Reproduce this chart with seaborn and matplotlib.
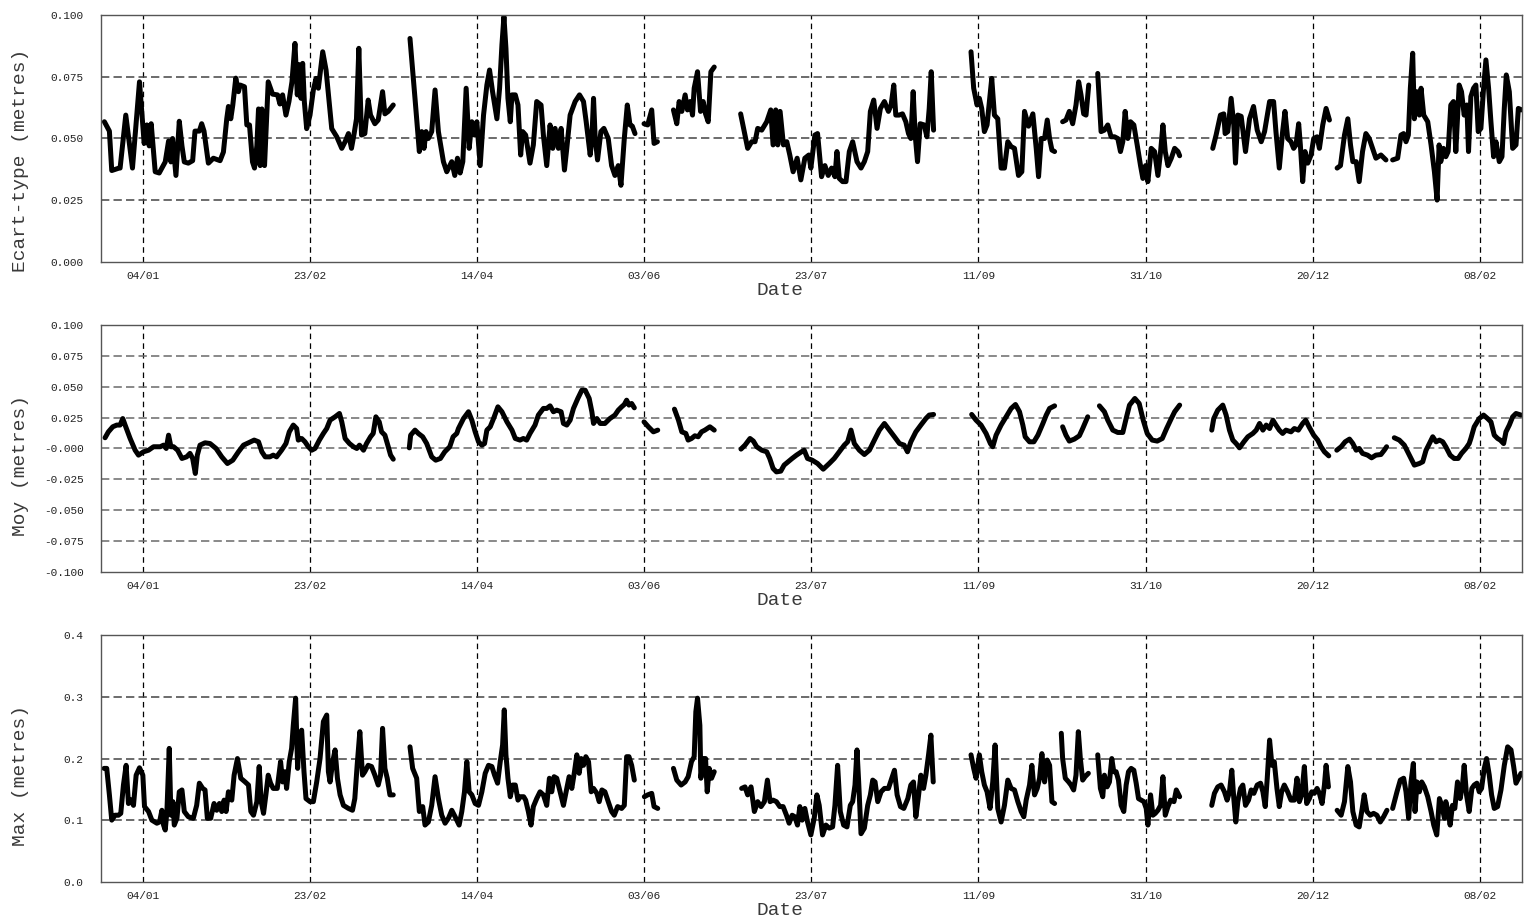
import matplotlib
matplotlib.use("Agg")
import matplotlib.pyplot as plt
import numpy as np
import pandas as pd
import seaborn as sns

# (days after 04/01, value in metres); None marks a gap in the record
ecart_type = [
    (-11.4, .0568), (-9.9, .053), (-9.2, .037), (-7.0, .038), (-6.7, .038), (-5.0, .0595), (-3.0, .038),
    (-0.9, .073), (0.5, .048), (1.3, .0555), (2.0, .047), (2.6, .056), (3.8, .0365), (5.0, .036),
    (6.8, .0405), (7.8, .049), (8.5, .0405), (9.0, .050), (10.0, .035), (11.0, .057), (11.8, .047),
    (12.5, .0405), (13.7, .040), (15.0, .041), (15.7, .053), (17.0, .053), (17.7, .056), (18.4, .053),
    (19.7, .040), (21.2, .042), (23.2, .041), (24.2, .0445), (25.2, .058), (25.7, .063), (26.4, .058),
    (27.0, .0635), (27.9, .0745), (28.7, .069), (29.2, .0717), (30.5, .071), (31.2, .0555), (32.0, .0555),
    (32.9, .0405), (33.5, .038), (34.2, .047), (34.7, .062), (35.2, .039), (35.7, .062), (36.5, .039),
    (37.6, .073), (38.9, .068), (40.4, .0677), (41.1, .064), (41.9, .0677), (42.9, .0595), (43.8, .065),
    (44.7, .073), (45.6, .0886), (46.3, .0677), (46.8, .080), (47.4, .0663), (47.9, .0805), (48.4, .065),
    (49.1, .054), (50.1, .0595), (51.1, .0697), (51.9, .0744), (52.6, .0704), (53.9, .0852), (54.9, .0778),
    (56.6, .054), (58.1, .0507), (59.6, .046), (60.6, .0487), (61.6, .052), (62.5, .046), (63.3, .052),
    (64.0, .058), (64.7, .0866), (65.5, .0514), (66.5, .052), (67.5, .0656), (68.2, .0595), (69.5, .056),
    (70.5, .0575), (71.8, .069), (72.5, .060), (73.5, .061), (75.0, .0636),
    None,
    (80.0, .0906), (81.5, .0663), (82.8, .0447), (83.5, .0528), (84.2, .046), (84.8, .0528), (85.5, .050),
    (86.5, .0528), (87.5, .0697), (88.5, .0528), (90.0, .0406), (91.0, .0365), (92.5, .0406), (93.4, .035),
    (94.2, .042), (95.0, .036), (95.8, .0406), (96.8, .0704), (97.7, .046), (98.5, .0568), (99.3, .0514),
    (100.0, .0568), (101.0, .039), (102.0, .0595), (103.0, .0717), (103.8, .0778), (104.7, .069),
    (106.0, .058), (106.8, .0704), (107.5, .088), (108.1, .0995), (108.7, .0866), (109.3, .0663),
    (110.0, .0568), (110.5, .0677), (111.5, .0677), (112.3, .0636), (113.1, .0433), (113.7, .0528),
    (114.6, .0514), (115.9, .040), (116.9, .0474), (117.9, .065), (119.2, .0636), (119.9, .0514),
    (120.9, .039), (121.9, .0555), (122.7, .046), (123.4, .0541), (124.4, .046), (125.2, .0541),
    (126.2, .0372), (126.9, .046), (127.9, .0595), (129.4, .065), (130.7, .0677), (131.9, .065),
    (132.7, .0568), (133.9, .0433), (134.4, .050), (134.9, .0663), (135.4, .050), (136.1, .0413),
    (137.1, .0528), (138.0, .0541), (139.3, .050), (140.3, .039), (141.3, .035), (142.3, .039),
    (143.1, .031), (144.1, .050), (145.0, .0636), (145.8, .0555), (146.5, .055), (147.3, .052),
    None,
    (150.0, .056), (151.1, .0555), (152.3, .0616), (153.0, .048), (154.0, .0487),
    None,
    (158.8, .0616), (159.8, .056), (160.5, .065), (161.3, .061), (162.3, .0677), (163.0, .0616),
    (163.8, .065), (164.5, .0595), (165.0, .0704), (166.0, .0771), (166.9, .061), (167.7, .065),
    (168.4, .060), (169.2, .0568), (170.0, .0771), (171.0, .079),
    None,
    (178.9, .060), (181.0, .046), (182.2, .0487), (183.2, .0487), (184.0, .0541), (185.2, .0534),
    (186.7, .0568), (187.9, .0616), (188.6, .0474), (189.4, .0616), (190.0, .0474), (190.7, .061),
    (191.7, .0474), (192.7, .0487), (193.6, .0433), (194.6, .0365), (195.8, .042), (196.9, .0332),
    (198.1, .042), (199.3, .0433), (199.9, .038), (201.1, .0514), (201.9, .052), (203.1, .0345),
    (204.1, .039), (205.1, .035), (206.1, .038), (207.1, .0345), (207.7, .0447), (208.4, .0338),
    (209.4, .0325), (210.4, .0325), (211.4, .0447), (212.4, .0487), (213.7, .0406), (214.9, .038),
    (215.9, .0406), (216.9, .0447), (217.7, .061), (218.7, .0656), (219.7, .0541), (220.7, .0622),
    (221.9, .065), (223.1, .061), (223.9, .0636), (224.7, .0717), (225.3, .0595), (226.3, .0595),
    (227.3, .060), (228.3, .0568), (229.1, .052), (229.8, .050), (230.5, .069), (231.1, .0514),
    (231.8, .0406), (232.6, .056), (233.8, .0555), (234.6, .0507), (235.3, .0622), (235.9, .0771),
    (236.6, .0534),
    None,
    (247.8, .0852), (248.6, .0704), (249.6, .0636), (250.3, .0663), (251.0, .0622), (251.8, .0528),
    (252.6, .0555), (253.3, .065), (254.0, .0744), (254.8, .0595), (255.8, .058), (256.8, .038),
    (257.8, .038), (258.8, .0487), (259.8, .0467), (260.8, .046), (262.0, .035), (263.0, .0365),
    (263.8, .061), (265.0, .055), (266.3, .060), (267.3, .046), (268.0, .0345), (268.8, .050),
    (269.8, .050), (270.6, .0575), (271.3, .050), (272.0, .0453), (272.8, .0447),
    None,
    (275.2, .0568), (276.2, .0575), (277.2, .061), (278.2, .056), (279.2, .0636), (280.0, .073),
    (280.7, .0677), (281.5, .060), (282.2, .0595), (283.0, .0717),
    None,
    (285.7, .0764), (286.7, .0528), (287.7, .0534), (288.7, .0555), (289.7, .0507), (290.7, .0507),
    (291.7, .050), (292.5, .0447), (293.2, .0487), (293.9, .061), (294.7, .050), (295.5, .0568),
    (296.5, .0555), (297.5, .0474), (298.5, .039), (299.2, .0338), (300.0, .039), (300.7, .0325),
    (301.7, .046), (302.7, .0447), (303.7, .035), (304.5, .0447), (305.2, .0555), (305.9, .0447),
    (306.7, .039), (307.7, .042), (308.7, .046), (309.7, .0447), (310.2, .043),
    None,
    (320.1, .046), (321.1, .0514), (322.4, .0595), (323.4, .060), (323.8, .052), (324.6, .0528),
    (325.6, .0663), (326.4, .0555), (326.9, .040), (327.6, .0595), (328.6, .059), (329.9, .0447),
    (331.1, .058), (332.3, .063), (333.4, .0534), (334.6, .0487), (335.6, .0528), (337.1, .065),
    (338.3, .065), (339.0, .0528), (340.0, .038), (341.0, .0528), (341.7, .061), (342.5, .050),
    (343.5, .0487), (344.3, .046), (345.0, .0474), (345.8, .056), (346.3, .0474), (347.0, .0325),
    (347.7, .0447), (348.5, .040), (349.5, .0433), (350.3, .050), (351.3, .0507), (352.0, .046),
    (353.0, .0555), (354.0, .0622), (355.0, .0575),
    None,
    (357.3, .038), (358.3, .039), (359.5, .0514), (360.5, .058), (361.3, .0474), (362.0, .0406),
    (363.0, .0406), (363.9, .0325), (364.9, .0447), (365.9, .052), (366.9, .050), (367.9, .046),
    (368.9, .042), (370.4, .0433), (371.9, .0413),
    None,
    (373.9, .0413), (375.4, .042), (376.4, .0514), (377.2, .052), (377.9, .0487), (378.6, .0514),
    (379.2, .0704), (379.9, .0846), (380.4, .058), (381.1, .069), (381.9, .0595), (382.4, .0704),
    (383.2, .0595), (384.4, .0568), (385.4, .0474), (386.4, .0365), (387.2, .025), (387.8, .0474),
    (388.3, .0406), (389.1, .046), (389.8, .0426), (390.5, .0447), (391.3, .0636), (392.1, .065),
    (392.8, .0447), (393.8, .0717), (394.5, .069), (395.3, .0595), (396.1, .0636), (396.6, .0447),
    (397.3, .067), (398.1, .0704), (398.8, .0717), (399.5, .0528), (400.3, .0541), (401.1, .0704),
    (401.8, .0819), (402.6, .0704), (403.3, .0568), (404.1, .0426), (404.8, .0487), (405.8, .0406),
    (406.6, .0426), (407.3, .0622), (407.9, .0758), (408.8, .069), (409.8, .046), (410.8, .0474),
    (411.5, .0622), (412.5, .0616),
]

moyenne = [
    (-11.2, .0087), (-10.2, .0135), (-8.9, .0176), (-7.7, .019), (-6.7, .019), (-5.9, .0243), (-5.2, .019),
    (-3.7, .0081), (-2.2, -.0014), (-1.2, -.0054), (0.3, -.0027), (1.8, -.0014), (3.3, .0014), (5.3, .0014),
    (6.3, .0027), (7.1, 0.0), (7.8, .0108), (8.5, .0014), (9.3, .0014), (10.5, -.0014), (11.8, -.0081),
    (13.2, -.0068), (14.2, -.004), (15.0, -.0081), (15.8, -.0203), (16.4, -.0054), (17.2, .0027),
    (18.7, .0046), (20.2, .004), (22.0, 0.0), (23.7, -.0068), (25.4, -.0122), (27.0, -.0095),
    (28.7, -.0027), (30.2, .0027), (31.7, .0046), (33.4, .0068), (34.7, .0054), (35.7, -.0027),
    (36.7, -.0068), (38.1, -.0068), (39.1, -.0054), (40.1, -.0068), (41.6, -.0014), (42.9, .004),
    (43.9, .0135), (45.1, .019), (46.1, .0162), (46.6, .0068), (47.6, .0081), (48.6, .0054), (49.6, .0014),
    (50.6, -.0014), (51.6, 0.0), (52.9, .0068), (54.1, .0122), (55.1, .0162), (56.1, .023), (57.6, .0257),
    (58.9, .0284), (59.6, .0216), (60.6, .0081), (61.9, .004), (63.1, .0014), (64.1, 0.0), (64.9, .0027),
    (66.1, -.0014), (67.0, .004), (68.2, .0095), (69.0, .0122), (69.8, .0257), (70.8, .0216), (71.5, .0135),
    (72.5, .0108), (73.5, .0014), (74.2, -.0054), (75.0, -.0087),
    None,
    (79.8, .0005), (80.2, .0108), (81.5, .0149), (82.5, .0122), (83.8, .0095), (85.0, .004), (86.5, -.0068),
    (87.7, -.0095), (89.1, -.0081), (90.4, -.0027), (91.9, .0014), (92.9, .0095), (94.0, .0122),
    (94.5, .0162), (96.0, .0243), (97.5, .0298), (98.5, .023), (99.5, .0135), (100.5, .0054), (101.5, .0027),
    (102.3, .004), (103.0, .0149), (104.0, .0176), (105.0, .0243), (106.3, .0338), (107.5, .0298),
    (109.0, .0216), (110.5, .0149), (111.5, .0081), (112.9, .0068), (113.9, .0081), (114.9, .0068),
    (115.9, .0122), (117.4, .019), (118.4, .0271), (119.9, .0325), (120.9, .0325), (121.9, .0346),
    (122.9, .0298), (123.9, .0311), (125.2, .0298), (125.9, .0203), (126.9, .019), (127.9, .023),
    (128.9, .0325), (130.2, .0406), (131.4, .0473), (132.4, .0473), (133.6, .0406), (134.4, .0298),
    (134.9, .0203), (135.9, .0243), (136.9, .0203), (138.3, .0203), (139.8, .0243), (141.3, .0271),
    (142.3, .0311), (143.3, .0338), (144.1, .0357), (144.8, .0392), (145.5, .0352), (146.3, .0365),
    (147.1, .033),
    None,
    (150.0, .0216), (151.3, .0176), (152.8, .0135), (154.1, .0149),
    None,
    (159.1, .0319), (160.3, .023), (161.3, .0135), (162.5, .0122), (163.2, .0068), (164.2, .0081),
    (165.2, .0103), (166.2, .0095), (167.2, .0135), (168.2, .0149), (169.7, .0176), (171.0, .0149),
    None,
    (179.0, -.0005), (180.2, .0027), (181.7, .0081), (182.7, .006), (183.7, .0014), (185.2, -.0014),
    (186.7, -.0027), (187.6, -.0081), (188.6, -.0162), (189.6, -.019), (190.9, -.0184), (191.9, -.0135),
    (193.1, -.0108), (194.3, -.0081), (195.6, -.0054), (197.1, -.0027), (197.9, -.0014), (198.9, -.0081),
    (200.3, -.0095), (201.9, -.0122), (203.6, -.0168), (205.4, -.0122), (206.9, -.0081), (208.4, -.0027),
    (209.9, .0027), (210.9, .0054), (211.9, .0149), (212.9, .004), (214.4, -.0014), (215.9, -.0049),
    (217.4, -.0014), (218.9, .0068), (220.4, .0149), (221.9, .0203), (223.4, .0149), (224.9, .0095),
    (226.4, .004), (227.8, .0027), (228.8, -.0027), (229.8, .0054), (231.3, .0135), (232.8, .019),
    (234.3, .0243), (235.3, .0271), (236.6, .0276),
    None,
    (248.0, .0276), (249.3, .023), (250.8, .019), (252.3, .0122), (253.6, .004), (254.3, .0014),
    (255.3, .0108), (256.8, .019), (258.3, .0257), (259.8, .0325), (261.1, .0357), (262.3, .0298),
    (263.3, .019), (264.0, .0095), (265.3, .0054), (266.6, .0054), (267.8, .0108), (269.3, .0203),
    (270.3, .0271), (271.3, .0325), (272.8, .0346),
    None,
    (275.2, .0176), (276.2, .0108), (277.2, .006), (278.7, .0076), (280.2, .0103), (281.2, .0162),
    (282.7, .0257),
    None,
    (286.2, .0346), (287.7, .0298), (288.7, .023), (290.2, .0149), (291.7, .013), (293.2, .013),
    (294.2, .0243), (295.2, .0352), (296.8, .0406), (298.1, .0365), (299.3, .023), (300.5, .0122),
    (302.0, .0068), (303.5, .006), (305.0, .0081), (306.3, .0162), (307.7, .0243), (308.7, .0298),
    (310.2, .0352),
    None,
    (319.8, .0149), (320.4, .0243), (321.6, .0311), (323.1, .0352), (324.1, .0271), (325.1, .0149),
    (326.1, .0068), (327.1, .004), (328.1, .0005), (329.4, .0054), (330.6, .0095), (332.1, .0122),
    (333.1, .0149), (334.1, .0203), (335.1, .0149), (336.1, .019), (337.1, .0162), (338.1, .023),
    (339.0, .019), (340.0, .0149), (341.0, .0122), (342.0, .0149), (343.5, .0135), (344.5, .0162),
    (345.7, .0149), (347.0, .0203), (347.9, .023), (348.9, .0176), (350.3, .0108), (351.5, .0068),
    (352.5, .0014), (353.5, -.0027), (354.8, -.006),
    None,
    (357.2, -.0014), (358.5, .0014), (359.7, .0054), (361.0, .0076), (362.0, .004), (363.0, -.0014),
    (363.9, 0.0), (364.9, -.004), (366.4, -.0054), (367.6, -.0076), (368.9, -.0054), (370.4, -.0049),
    (371.4, -.0014), (372.1, .0014),
    None,
    (374.4, .0087), (375.9, .0068), (377.4, .0027), (378.4, -.0027), (379.4, -.0081), (380.4, -.0135),
    (381.9, -.0122), (382.9, -.0108), (383.9, -.0014), (384.9, .004), (385.9, .0095), (386.9, .0054),
    (387.9, .0068), (388.9, .0054), (389.8, .0014), (391.1, -.0054), (392.3, -.0081), (393.5, -.0081),
    (394.5, -.004), (395.8, 0.0), (396.8, .004), (397.3, .0081), (398.3, .0176), (399.8, .0243),
    (401.1, .0271), (402.3, .0243), (403.3, .0216), (404.3, .0108), (405.3, .0081), (406.1, .0068),
    (407.1, .004), (407.8, .0135), (408.8, .019), (409.8, .0257), (410.8, .0284), (412.3, .0271),
]

maximum = [
    (-11.5, .184), (-10.7, .184), (-9.9, .141), (-9.2, .100), (-8.2, .108), (-7.2, .108), (-6.5, .111),
    (-5.7, .157), (-4.9, .189), (-4.2, .127), (-3.5, .133), (-2.7, .124), (-1.9, .173), (-0.9, .185),
    (0.1, .173), (0.6, .122), (1.8, .114), (2.8, .100), (4.3, .095), (5.1, .097), (5.8, .116), (6.3, .092),
    (6.8, .084), (7.3, .114), (8.0, .2165), (8.5, .108), (9.1, .130), (9.5, .092), (10.3, .103), (11.0, .146),
    (11.8, .149), (12.5, .114), (13.7, .1055), (15.2, .103), (16.2, .124), (17.0, .160), (18.0, .1515),
    (18.7, .149), (19.4, .103), (20.4, .103), (21.4, .127), (22.2, .116), (23.0, .127), (23.7, .114),
    (24.4, .1325), (25.0, .114), (25.7, .146), (26.7, .1325), (27.4, .173), (28.4, .200), (29.4, .168),
    (30.7, .162), (31.7, .157), (32.4, .114), (33.2, .108), (34.2, .130), (34.9, .187), (35.5, .130),
    (36.2, .111), (36.9, .141), (37.6, .173), (38.3, .160), (39.1, .1515), (40.3, .1515), (41.3, .195),
    (41.9, .162), (42.6, .1786), (43.1, .1515), (43.9, .195), (44.6, .2165), (45.1, .254), (45.8, .298),
    (46.4, .184), (46.9, .238), (47.6, .246), (48.3, .1786), (48.9, .135), (50.1, .130), (51.1, .130),
    (52.1, .162), (53.1, .200), (54.1, .260), (55.1, .2706), (55.6, .1786), (56.1, .162), (56.9, .195),
    (57.6, .214), (58.3, .168), (59.1, .141), (60.1, .124), (61.6, .119), (62.8, .116), (63.5, .135),
    (64.2, .189), (65.0, .2436), (65.8, .173), (66.5, .1786), (67.5, .189), (68.5, .187), (69.5, .173),
    (70.5, .157), (71.2, .173), (71.8, .249), (72.5, .184), (73.2, .168), (74.0, .141), (75.0, .141),
    None,
    (80.0, .219), (80.8, .184), (82.0, .168), (82.8, .114), (83.8, .122), (84.5, .092), (85.5, .097),
    (86.5, .124), (87.5, .1705), (88.5, .135), (89.5, .108), (90.5, .095), (91.5, .103), (92.5, .116),
    (93.5, .1055), (94.7, .092), (95.5, .114), (96.3, .146), (97.0, .195), (97.7, .146), (98.5, .141),
    (99.5, .127), (100.5, .124), (101.5, .146), (102.5, .176), (103.5, .189), (104.5, .187), (105.3, .173),
    (106.2, .160), (107.0, .195), (107.7, .222), (108.2, .279), (108.7, .206), (109.3, .168), (110.0, .138),
    (110.7, .157), (111.5, .157), (112.3, .1325), (113.0, .138), (114.0, .138), (114.6, .1325),
    (115.4, .114), (116.2, .092), (116.9, .122), (117.9, .135), (118.9, .146), (119.9, .141), (120.9, .124),
    (121.7, .168), (122.4, .146), (123.1, .1705), (123.9, .168), (124.9, .146), (125.9, .124),
    (126.9, .1515), (127.6, .1705), (128.4, .1515), (129.2, .1786), (129.9, .206), (130.6, .176),
    (131.2, .200), (131.9, .189), (132.6, .203), (133.4, .195), (134.2, .146), (134.9, .1515),
    (135.9, .1435), (136.6, .130), (137.4, .149), (138.3, .146), (139.3, .130), (140.3, .114),
    (141.1, .108), (142.1, .122), (143.3, .119), (144.1, .124), (144.8, .203), (145.5, .203),
    (146.3, .189), (147.1, .165),
    None,
    (150.1, .138), (151.1, .141), (152.3, .1435), (153.0, .122), (154.1, .119),
    None,
    (158.8, .184), (159.8, .165), (161.1, .157), (162.3, .162), (163.2, .1705), (164.2, .195), (165.0, .203),
    (165.5, .276), (166.0, .298), (166.7, .254), (167.0, .168), (167.7, .200), (168.4, .200), (168.9, .146),
    (169.5, .184), (170.2, .168), (171.0, .1786),
    None,
    (179.2, .1515), (180.2, .154), (181.0, .141), (182.0, .154), (183.0, .114), (184.0, .130), (185.0, .122),
    (186.0, .130), (186.9, .165), (187.7, .130), (188.6, .1325), (189.6, .130), (190.6, .122), (191.6, .122),
    (192.6, .108), (193.4, .095), (194.3, .108), (195.1, .1055), (195.9, .092), (196.6, .122), (197.3, .100),
    (198.1, .119), (198.9, .097), (199.9, .076), (200.9, .103), (201.7, .141), (202.4, .124), (203.4, .076),
    (204.4, .092), (205.4, .087), (206.4, .089), (207.1, .124), (207.9, .189), (208.7, .114), (209.7, .092),
    (210.7, .089), (211.7, .124), (212.4, .130), (213.1, .157), (213.7, .214), (214.2, .162), (214.9, .078),
    (215.9, .087), (216.9, .124), (217.7, .141), (218.4, .165), (219.1, .162), (219.9, .130), (220.9, .146),
    (221.9, .1515), (223.1, .1515), (224.1, .168), (224.9, .181), (225.7, .141), (226.7, .122),
    (227.7, .119), (228.9, .135), (229.8, .157), (230.6, .162), (231.3, .1055), (232.0, .135), (232.8, .173),
    (233.6, .1515), (234.3, .173), (235.1, .206), (235.8, .238), (236.5, .162),
    None,
    (247.8, .206), (248.6, .184), (249.3, .168), (250.3, .206), (251.0, .1786), (251.8, .157), (252.6, .146),
    (253.5, .119), (254.3, .162), (255.0, .222), (255.8, .119), (256.8, .097), (257.8, .124), (258.8, .165),
    (259.8, .1515), (260.8, .149), (261.8, .130), (262.8, .114), (263.6, .1055), (264.3, .1325),
    (265.3, .157), (266.0, .189), (266.8, .141), (267.6, .1515), (268.3, .168), (269.0, .208), (269.8, .162),
    (270.6, .1975), (271.3, .189), (272.0, .130), (272.8, .127),
    None,
    (274.8, .241), (275.2, .200), (276.0, .168), (277.0, .162), (277.7, .157), (278.5, .149), (279.2, .173),
    (279.9, .2436), (280.5, .200), (281.2, .165), (281.9, .1705), (282.9, .176),
    None,
    (285.7, .206), (286.5, .1515), (287.2, .138), (287.7, .173), (288.5, .154), (289.2, .162), (289.9, .200),
    (290.5, .1786), (291.2, .1786), (291.9, .165), (292.7, .124), (293.5, .114), (294.2, .157),
    (294.9, .1786), (295.7, .184), (296.5, .181), (297.2, .160), (297.9, .135), (298.7, .1325),
    (299.5, .130), (300.2, .119), (300.7, .092), (301.5, .141), (302.2, .108), (302.9, .111), (303.7, .116),
    (304.5, .124), (305.2, .1705), (305.9, .108), (306.7, .122), (307.5, .1325), (308.5, .130),
    (309.2, .149), (310.2, .138),
    None,
    (319.8, .124), (320.6, .1435), (321.6, .154), (322.6, .157), (323.6, .146), (324.4, .1325),
    (325.1, .146), (325.8, .181), (326.4, .135), (327.0, .097), (327.6, .130), (328.4, .1515), (329.1, .157),
    (329.9, .124), (330.8, .1325), (331.6, .149), (332.4, .1435), (333.4, .157), (334.4, .160),
    (335.1, .146), (335.8, .122), (336.4, .168), (337.1, .230), (337.8, .189), (338.5, .195),
    (339.3, .1515), (340.0, .122), (340.7, .146), (341.5, .157), (342.5, .146), (343.5, .1325),
    (344.5, .1325), (345.3, .168), (346.0, .130), (346.7, .141), (347.5, .187), (348.2, .127),
    (349.0, .135), (349.7, .146), (350.5, .1435), (351.3, .1515), (352.0, .1435), (352.8, .127),
    (353.5, .157), (354.0, .189), (354.7, .154),
    None,
    (357.3, .116), (358.5, .108), (359.5, .130), (360.5, .187), (361.3, .162), (362.0, .114), (363.0, .092),
    (363.9, .089), (364.8, .119), (365.4, .141), (366.2, .114), (367.2, .108), (368.2, .111), (369.2, .108),
    (370.2, .097), (371.2, .1055), (372.2, .116),
    None,
    (373.9, .119), (375.2, .146), (376.2, .165), (377.2, .168), (377.9, .146), (378.7, .103), (379.4, .162),
    (380.1, .192), (380.6, .114), (381.2, .162), (381.9, .146), (382.6, .162), (383.4, .154), (384.4, .138),
    (385.4, .114), (386.2, .092), (387.1, .076), (387.9, .135), (388.6, .124), (389.4, .103), (389.8, .130),
    (390.5, .114), (391.1, .092), (391.8, .124), (392.5, .119), (393.3, .162), (394.1, .135), (394.8, .157),
    (395.3, .189), (396.0, .141), (396.8, .114), (397.6, .1515), (398.3, .157), (399.1, .160),
    (399.8, .146), (400.5, .1515), (401.3, .184), (402.0, .200), (402.8, .173), (403.5, .141),
    (404.3, .119), (405.3, .122), (406.3, .149), (407.3, .189), (408.3, .219), (409.3, .214),
    (410.1, .187), (410.8, .160), (411.8, .1705), (412.3, .176),
]

start = pd.Timestamp("2001-01-04")
tick_days = [0, 50, 100, 150, 200, 250, 300, 350, 400]
tick_labels = ["04/01", "23/02", "14/04", "03/06", "23/07", "11/09", "31/10", "20/12", "08/02"]

panels = [
    ("Ecart-type (metres)", ecart_type,
     [0.0, 0.025, 0.05, 0.075, 0.1],
     ["0.000", "0.025", "0.050", "0.075", "0.100"], 0.41),
    ("Moy (metres)", moyenne,
     [-0.1, -0.075, -0.05, -0.025, 0.0, 0.025, 0.05, 0.075, 0.1],
     ["-0.100", "-0.075", "-0.050", "-0.025", "-0.000", "0.025", "0.050", "0.075", "0.100"], 0.43),
    ("Max (metres)", maximum,
     [0.0, 0.1, 0.2, 0.3, 0.4],
     ["0.0", "0.1", "0.2", "0.3", "0.4"], 0.43),
]


def to_frame(points):
    rows, seg = [], 0
    for p in points:
        if p is None:
            seg += 1
            continue
        rows.append((start + pd.Timedelta(days=p[0]), p[1], seg))
    return pd.DataFrame(rows, columns=["date", "val", "seg"])


sns.set_style("white")
plt.rcParams["font.family"] = ["Liberation Mono", "DejaVu Sans Mono"]
plt.rcParams["lines.scale_dashes"] = False

fig = plt.figure(figsize=(15.24, 9.16), dpi=100)
bottoms = [0.7143, 0.3759, 0.0374]

for (ylabel, pts, yt, ytl, ylab_y), b in zip(panels, bottoms):
    ax = fig.add_axes([0.0663, b, 0.9324, 0.269])
    df = to_frame(pts)
    sns.lineplot(data=df, x="date", y="val", units="seg", estimator=None, sort=False,
                 color="black", lw=3.6, ax=ax, solid_joinstyle="round", solid_capstyle="round")

    ax.set_xlim(start + pd.Timedelta(days=-12.4), start + pd.Timedelta(days=412.6))
    ax.set_ylim(yt[0], yt[-1])
    ax.set_xticks([start + pd.Timedelta(days=d) for d in tick_days])
    ax.set_xticklabels(tick_labels)
    ax.set_yticks(yt)
    ax.set_yticklabels(ytl)

    for x in ax.get_xticks():
        ax.axvline(x, color="black", lw=0.9, ls=(0, (4, 3)), zorder=0)
    for y in yt[1:-1]:
        ax.axhline(y, color="#444444" if len(yt) < 9 else "#6a6a6a", lw=1.1, ls=(0, (6, 3)), zorder=0)

    for s in ax.spines.values():
        s.set_color("#555555")
        s.set_linewidth(1.0)
    ax.tick_params(axis="both", length=2.5, width=0.8, color="black", labelsize=8, labelcolor="#222222")
    ax.tick_params(axis="y", pad=10)
    ax.tick_params(axis="x", pad=4)

    ax.set_ylabel(ylabel, fontsize=14, color="#3a3a3a")
    ax.yaxis.set_label_coords(-0.051, ylab_y)
    ax.set_xlabel("Date", fontsize=14, color="#3a3a3a")
    ax.xaxis.set_label_coords(0.478, -0.082)

fig.savefig("out.png", dpi=100)
